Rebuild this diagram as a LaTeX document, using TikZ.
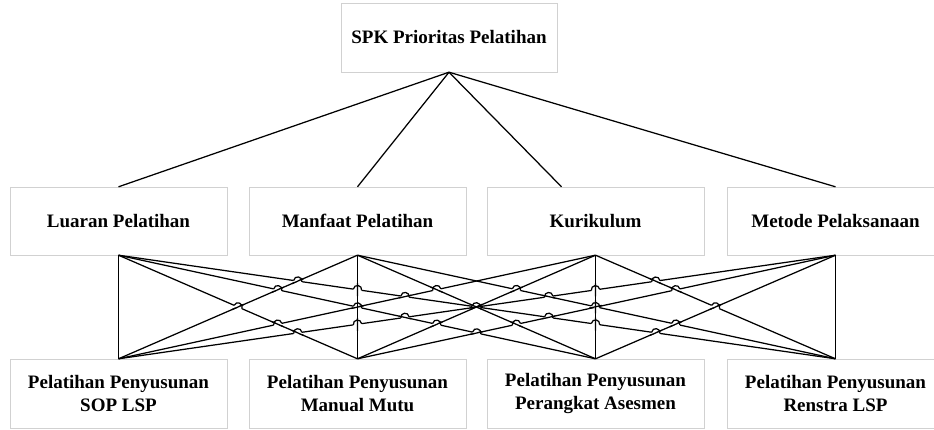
\documentclass[tikz,border=0pt]{standalone}
\usepackage{fontspec}
\setmainfont{Liberation Serif}
\usetikzlibrary{calc}
\tikzset{
  box/.style={draw=black!18, fill=white, minimum width=217pt, minimum height=68pt,
    inner sep=0pt, align=center, font=\bfseries\fontsize{19}{23}\selectfont},
  ln/.style={line width=1.25pt, black},
  erase/.style={line width=2.9pt, white},
}
% hop of line #1--#2 (left end, right end) over line #3--#4
\newcommand\hop[4]{%
  \coordinate (hp) at (intersection of #1--#2 and #3--#4);
  \coordinate (ha) at ($(hp)!4.2pt!(#1)$);
  \coordinate (hb) at ($(hp)!4.2pt!(#2)$);
  \draw[erase] (ha) -- (hb);
  \draw[ln] ($(hp)!6.5pt!(#3)$) -- ($(hp)!6.5pt!(#4)$);
  \draw[ln] (ha) .. controls ($(ha)!5.6pt!90:(hb)$) and ($(hb)!5.6pt!-90:(ha)$) .. (hb);
}
% redraw a further line through the last hop point
\newcommand\rdr[2]{\draw[ln] ($(hp)!6.5pt!(#1)$) -- ($(hp)!6.5pt!(#2)$);}
\begin{document}
\begin{tikzpicture}[x=1pt,y=-1pt]
\clip (0,0) rectangle (934,430);
\fill[white] (0,0) rectangle (934,430);
% boxes
\node[box, minimum width=216pt, minimum height=69pt] (spk) at (449,37.5) {SPK Prioritas Pelatihan};
\node[box] (c1) at (118.5,221) {Luaran Pelatihan};
\node[box] (c2) at (357.5,221) {Manfaat Pelatihan};
\node[box] (c3) at (595.5,221) {Kurikulum};
\node[box] (c4) at (835.5,221) {Metode Pelaksanaan};
\node[box, minimum height=69pt] (a1) at (118.5,393.5) {Pelatihan Penyusunan\\SOP LSP};
\node[box, minimum height=69pt] (a2) at (357.5,393.5) {Pelatihan Penyusunan\\Manual Mutu};
\node[box, minimum height=69pt] (a3) at (595.5,393.5) {Pelatihan Penyusunan\\Perangkat Asesmen};
\node[box, minimum height=69pt] (a4) at (835.5,393.5) {Pelatihan Penyusunan\\Renstra LSP};
% top connectors
\coordinate (k3) at ($(c3.north)+(-34,0)$);
\draw[ln] (spk.south) -- (c1.north);
\draw[ln] (spk.south) -- (c2.north);
\draw[ln] (spk.south) -- (k3);
\draw[ln] (spk.south) -- (c4.north);
% criteria to alternatives
\foreach \i in {1,...,4} {
  \coordinate (T\i) at (c\i.south);
  \coordinate (B\i) at (a\i.north);
}
\foreach \i in {1,...,4} \foreach \j in {1,...,4} \draw[ln] (T\i) -- (B\j);
% line jumps
\hop{T1}{B2}{T2}{B1}
\hop{T1}{B3}{T2}{B1}
\hop{T1}{B4}{T2}{B1}
\hop{T1}{B3}{T2}{B2}\rdr{T3}{B1}
\hop{T1}{B4}{T2}{B2}
\hop{T1}{B4}{T2}{B3}\rdr{T3}{B2}\rdr{T4}{B1}
\hop{B1}{T3}{T1}{B2}
\hop{T1}{B4}{T3}{B1}
\hop{T1}{B3}{T3}{B2}
\hop{T1}{B4}{T3}{B3}
\hop{B1}{T4}{T1}{B2}
\hop{B1}{T4}{T1}{B3}
\hop{T1}{B3}{T4}{B2}
\hop{T1}{B4}{T4}{B2}
\hop{T1}{B4}{T4}{B3}
\hop{B1}{T3}{T2}{B3}
\hop{T2}{B4}{T3}{B2}
\hop{T2}{B4}{T3}{B3}\rdr{T4}{B2}
\hop{B1}{T4}{T2}{B2}
\hop{B1}{T4}{T2}{B4}
\hop{B2}{T4}{T2}{B3}
\hop{T2}{B4}{T4}{B3}
\hop{B1}{T4}{T3}{B3}
\hop{B1}{T4}{T3}{B4}
\hop{B2}{T4}{T3}{B4}
\hop{T3}{B4}{T4}{B3}
\end{tikzpicture}
\end{document}
